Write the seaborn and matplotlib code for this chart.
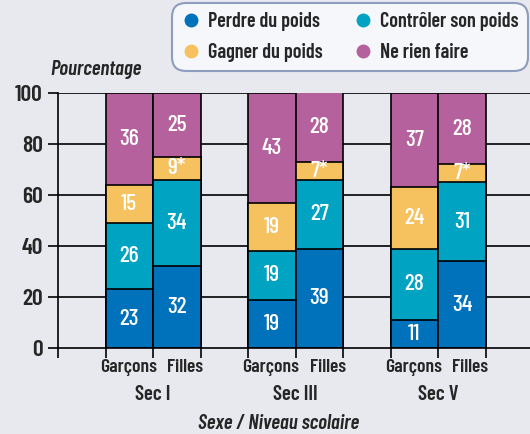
import numpy as np
import pandas as pd
import matplotlib.pyplot as plt
import seaborn as sns
from matplotlib.lines import Line2D

niveaux = ['Sec I', 'Sec III', 'Sec V']
sexes = ['Garçons', 'Filles']
categories = ['Perdre du poids', 'Contrôler son poids', 'Gagner du poids', 'Ne rien faire']
perdre = [23, 32, 19, 39, 11, 34]
controler = [26, 34, 19, 27, 28, 31]
gagner = [15, 9, 19, 7, 24, 7]
rien = [36, 25, 43, 28, 37, 28]
etiquettes_gagner = ['15', '9*', '19', '7*', '24', '7*']
couleurs = ['#0071BB', '#00A3C1', '#F6C25F', '#B5619D']

sns.set_theme(style='white')
plt.rcParams['font.family'] = ['Barlow Condensed', 'DejaVu Sans']
fond = '#E8E9EF'
poids = 600

pos = [0.5, 1.5, 3.5, 4.5, 6.5, 7.5]
df = pd.DataFrame({'pos': pos, 'perdre': perdre, 'controler': controler,
                   'gagner': gagner, 'rien': rien})
cols = ['perdre', 'controler', 'gagner', 'rien']
cum = df[cols].cumsum(axis=1)

fig = plt.figure(figsize=(5.3, 4.34), dpi=100, facecolor=fond)
ax = fig.add_axes([0.1094, 0.198, 0.8906, 0.5876])
ax.set_facecolor(fond)

# barres empilees : on dessine les cumuls du haut vers le bas
for c, col in reversed(list(zip(couleurs, cols))):
    sns.barplot(x=df['pos'], y=cum[col], native_scale=True, width=1, color=c,
                edgecolor='black', linewidth=1.2, saturation=1, ax=ax, zorder=3)

# etiquettes des valeurs
for i, p in enumerate(pos):
    bas = 0
    for col in cols:
        v = df[col][i]
        txt = etiquettes_gagner[i] if col == 'gagner' else str(v)
        y = bas + min(v, 100 - bas) / 2
        ax.text(p, y, txt, ha='center', va='center', color='white',
                fontsize=17, fontweight=500, zorder=5)
        bas += v

ax.set_xlim(-1, 8.93)
ax.set_ylim(0, 100)
ax.set_yticks([0, 20, 40, 60, 80, 100])
ax.set_yticklabels(['0', '20', '40', '60', '80', '100'], fontsize=17, fontweight=poids)
for yv in [20, 40, 60, 80, 100]:
    ax.axhline(yv, color='black', lw=1.2, zorder=1)
ax.set_xticks([-1, 0, 1, 2, 3, 4, 5, 6, 7, 8])
ax.set_xticklabels([])
ax.tick_params(axis='both', direction='out', length=7, width=1.2, color='black',
               left=True, bottom=True, pad=4)
ax.set_xlabel('')
ax.set_ylabel('')
for s in ['top', 'right']:
    ax.spines[s].set_visible(False)
for s in ['left', 'bottom']:
    ax.spines[s].set_color('black')
    ax.spines[s].set_linewidth(1.2)
    ax.spines[s].set_zorder(4)

decalage = [-0.02, 0.17]
for g, niv in enumerate(niveaux):
    for k, sx in enumerate(sexes):
        ax.text(pos[2 * g + k] + decalage[k], -7.8, sx, ha='center', va='center',
                fontsize=14, fontweight=poids, clip_on=False)
    ax.text(pos[2 * g] + 0.5, -18.3, niv, ha='center', va='center', fontsize=15,
            fontweight=poids, clip_on=False)

fig.text(0.094, 0.839, 'Pourcentage', fontsize=15, style='italic', fontweight=poids,
         ha='left', va='center')
fig.text(0.525, 0.025, 'Sexe / Niveau scolaire', fontsize=15, style='italic',
         fontweight=poids, ha='center', va='center')

ordre = [0, 2, 1, 3]
poignees = [Line2D([], [], marker='o', ls='', color=couleurs[j], markersize=9) for j in ordre]
leg = fig.legend(poignees, [categories[j] for j in ordre], ncol=2, loc='upper right',
                 bbox_to_anchor=(528 / 530, 1 - 3 / 434), frameon=True, fancybox=True,
                 facecolor='#F6F7FA', edgecolor='#8D9DBD', framealpha=1,
                 prop={'size': 14.5, 'weight': poids}, handlelength=1.0,
                 handletextpad=0.35, columnspacing=1.5, borderpad=0.45,
                 labelspacing=0.6, borderaxespad=0)
leg.get_frame().set_linewidth(1.5)
leg.get_frame().set_boxstyle('round', pad=0, rounding_size=0.7)

fig.savefig('out.png', dpi=100, facecolor=fond)
